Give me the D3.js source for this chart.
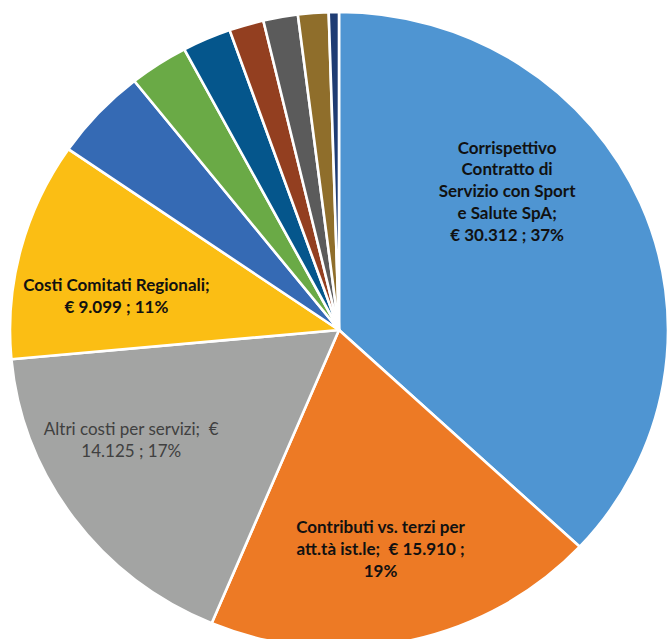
<!DOCTYPE html>
<html>
<head>
<meta charset="utf-8">
<script src="https://cdn.jsdelivr.net/npm/d3@7"></script>
<style>
  html, body { margin: 0; padding: 0; background: #fff; }
  #chart { width: 667px; height: 639px; overflow: hidden; }
</style>
</head>
<body>
<div id="chart"></div>
<script>
(function () {
  // -- Data (migliaia di euro) ----------------------------------------
  var CATEGORIES = [
    "Corrispettivo Contratto di Servizio con Sport e Salute SpA",
    "Contributi vs. terzi per att.tà ist.le",
    "Altri costi per servizi",
    "Costi Comitati Regionali",
    "Costi per il personale",
    "Godimento beni di terzi",
    "Oneri diversi di gestione",
    "Acquisti",
    "Ammortamenti",
    "Imposte",
    "Oneri finanziari"
  ];
  var VALUES = [30312, 15910, 14125, 9099, 3850, 2376, 1966, 1393, 1393, 1229, 410];
  var VALUE_LABELS = ["€ 30.312", "€ 15.910", "€ 14.125", "€ 9.099", "", "", "", "", "", "", ""];
  var PERCENT_LABELS = ["37%", "19%", "17%", "11%", "", "", "", "", "", "", ""];

  // label text lines (as wrapped in the original)
  var LABEL_LINES = [
    ["Corrispettivo", "Contratto di", "Servizio con Sport", "e Salute SpA;", "€ 30.312 ; 37%"],
    ["Contributi vs. terzi per", "att.tà ist.le;  € 15.910 ;", "19%"],
    ["Altri costi per servizi;  €", "14.125 ; 17%"],
    ["Costi Comitati Regionali;", "€ 9.099 ; 11%"]
  ];

  // -- Style ----------------------------------------------------------
  var COLORS = [
    "#4f95d2", "#ed7a25", "#a3a4a3", "#fbbe14", "#356ab4", "#6aaa46",
    "#05568c", "#933f20", "#5b5b5b", "#8f6e2b", "#1f3c73"
  ];
  var LABEL_STYLE = [
    { weight: "bold",   fill: "#111111", size: 17 },
    { weight: "bold",   fill: "#111111", size: 17 },
    { weight: "normal", fill: "#404040", size: 17 },
    { weight: "bold",   fill: "#111111", size: 17 }
  ];
  // label anchors in polar form: [angle in degrees clockwise from top, radius fraction]
  var LABEL_POLAR = [[49.5, 0.672], [169.6, 0.70], [241.3, 0.72], [279, 0.685]];

  var W = 667, H = 639;
  var cx = 339, cy = 330, rx = 329, ry = 318;
  var FONT = "Lato, 'Open Sans', sans-serif";
  var LINE_H = 21.8;

  var svg = d3.select("#chart").append("svg")
    .attr("width", W).attr("height", H);

  var pie = d3.pie().sort(null).value(function (d) { return d; });
  var arcs = pie(VALUES);

  var arc = d3.arc().innerRadius(0).outerRadius(ry);

  var g = svg.append("g")
    .attr("transform", "translate(" + cx + "," + cy + ") scale(" + (rx / ry) + ",1)");

  g.selectAll("path")
    .data(arcs)
    .join("path")
      .attr("d", arc)
      .attr("fill", function (d, i) { return COLORS[i]; })
      .attr("stroke", "#ffffff")
      .attr("stroke-width", 2.6)
      .attr("stroke-linejoin", "round")
      .attr("vector-effect", "non-scaling-stroke");

  // Labels
  LABEL_LINES.forEach(function (lines, i) {
    var a = LABEL_POLAR[i][0] * Math.PI / 180;
    var f = LABEL_POLAR[i][1];
    var x = cx + rx * f * Math.sin(a);
    var y = cy - ry * f * Math.cos(a);
    var t = svg.append("text")
      .attr("text-anchor", "middle")
      .attr("font-family", FONT)
      .attr("font-size", LABEL_STYLE[i].size + "px")
      .attr("font-weight", LABEL_STYLE[i].weight)
      .attr("fill", LABEL_STYLE[i].fill)
      .attr("xml:space", "preserve");
    var y0 = y - (lines.length - 1) * LINE_H / 2;
    lines.forEach(function (ln, k) {
      t.append("tspan")
        .attr("x", x)
        .attr("y", y0 + k * LINE_H)
        .attr("dy", "0.35em")
        .text(ln);
    });
  });
})();
</script>
</body>
</html>
